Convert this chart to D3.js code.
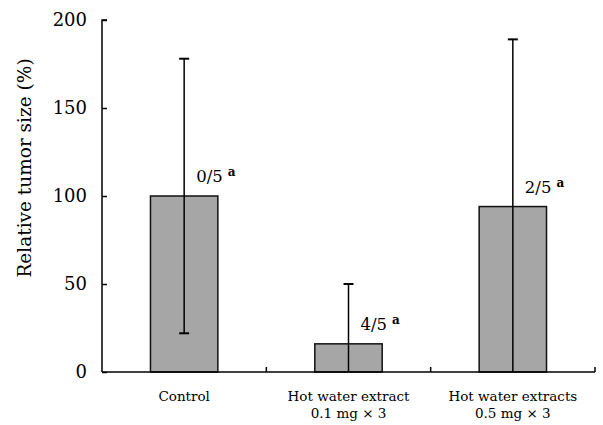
<!DOCTYPE html>
<html><head><meta charset="utf-8">
<script src="https://cdn.jsdelivr.net/npm/d3@7"></script>
<style>body{margin:0;background:#fff}svg{display:block}</style>
</head><body>
<svg id="c" width="603" height="425"></svg>
<script>
const categories = ["Control", "Hot water extract|0.1 mg × 3", "Hot water extracts|0.5 mg × 3"];
const values = [100, 16, 94];
const sd = [78, 34, 95];
const ratios = ["0/5", "4/5", "2/5"];
const yTicks = [0, 50, 100, 150, 200];

const svg = d3.select("#c");
const L = 102, R = 595, T = 20, B = 372;
const x = d3.scaleBand().domain(categories).range([L, R]);
const y = d3.scaleLinear().domain([0, 200]).range([B, T]);
const serif = "'DejaVu Serif', serif";

// bars
const bw = x.bandwidth() * 0.41;
svg.selectAll("rect.bar").data(categories).join("rect")
  .attr("x", d => x(d) + x.bandwidth()/2 - bw/2)
  .attr("y", (d,i) => y(values[i]))
  .attr("width", bw)
  .attr("height", (d,i) => B - y(values[i]))
  .attr("fill", "#a6a6a6").attr("stroke", "#111").attr("stroke-width", 1.5);

// error bars
categories.forEach((c, i) => {
  const cx = x(c) + x.bandwidth()/2;
  const hi = values[i] + sd[i], lo = Math.max(0, values[i] - sd[i]);
  svg.append("line").attr("x1", cx).attr("x2", cx).attr("y1", y(hi)).attr("y2", y(lo))
    .attr("stroke", "#000").attr("stroke-width", 1.5);
  svg.append("line").attr("x1", cx-5).attr("x2", cx+5).attr("y1", y(hi)).attr("y2", y(hi))
    .attr("stroke", "#000").attr("stroke-width", 2);
  if (values[i] - sd[i] > 0)
    svg.append("line").attr("x1", cx-5).attr("x2", cx+5).attr("y1", y(lo)).attr("y2", y(lo))
      .attr("stroke", "#000").attr("stroke-width", 2);
  const t = svg.append("text").attr("x", cx + 12).attr("y", y(values[i]) - 14)
    .attr("font-family", serif).attr("font-size", 16.5).attr("fill", "#000");
  t.append("tspan").text(ratios[i]);
  t.append("tspan").attr("dx", 5).attr("dy", -6).attr("font-size", 12).attr("font-weight", "bold").text("a");
});

// y axis
const yAxis = d3.axisRight(y).tickValues(yTicks).tickSize(5).tickFormat(d3.format("d"));
const ga = svg.append("g").attr("transform", `translate(${L},0)`).call(yAxis);
ga.select(".domain").attr("stroke-width", 1.5).attr("d", `M5,${T}H0V${B}`);
ga.selectAll(".tick line").attr("stroke-width", 1.5);
ga.selectAll(".tick text").attr("x", -15).attr("text-anchor", "end")
  .attr("font-family", serif).attr("font-size", 18).attr("fill", "#000");

// x axis
const gx = svg.append("g");
gx.append("line").attr("x1", L).attr("x2", R).attr("y1", B).attr("y2", B)
  .attr("stroke", "#000").attr("stroke-width", 1.5);
categories.forEach(c => {
  const bx = x(c) + x.bandwidth();
  gx.append("line").attr("x1", bx).attr("x2", bx).attr("y1", B).attr("y2", B-5)
    .attr("stroke", "#000").attr("stroke-width", 1.5);
  const lines = c.split("|");
  const t = gx.append("text").attr("x", x(c) + x.bandwidth()/2).attr("y", 401)
    .attr("text-anchor", "middle").attr("font-family", serif).attr("font-size", 13.5).attr("fill", "#000");
  lines.forEach((ln, k) => t.append("tspan").attr("x", x(c) + x.bandwidth()/2).attr("dy", k ? 17 : 0).text(ln));
});

// y label
svg.append("text").attr("transform", "translate(31,168) rotate(-90)")
  .attr("text-anchor", "middle").attr("font-family", serif).attr("font-size", 18.5).attr("fill", "#000")
  .text("Relative tumor size (%)");
</script>
</body></html>
